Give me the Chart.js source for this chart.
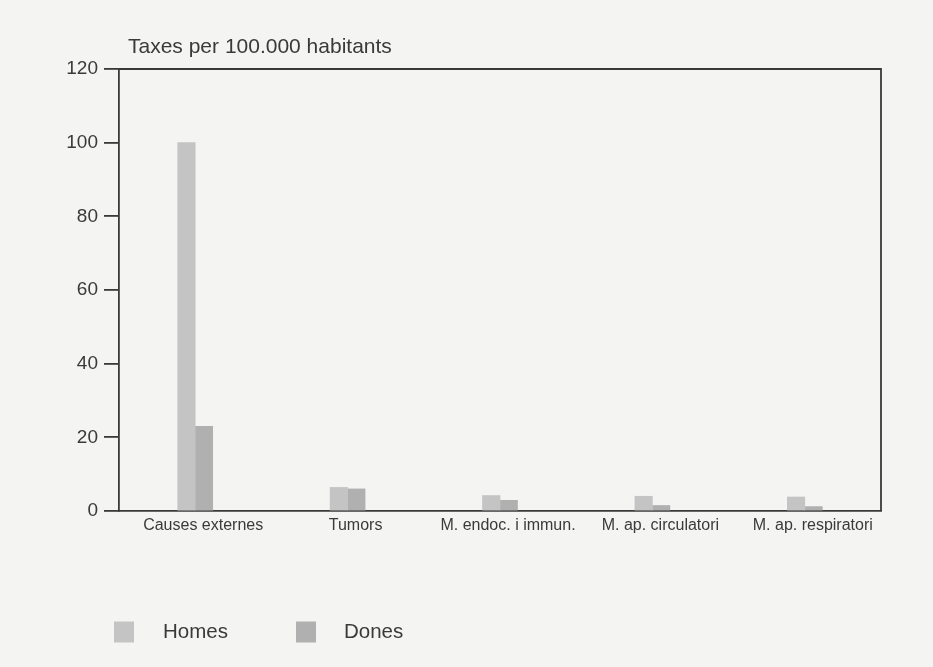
<!DOCTYPE html>
<html>
<head>
<meta charset="utf-8">
<script src="https://cdn.jsdelivr.net/npm/chart.js@4.4.1/dist/chart.umd.min.js"></script>
<style>
  html, body { margin: 0; padding: 0; background: #f4f4f2; }
  #wrap { position: relative; width: 933px; height: 667px; }
</style>
</head>
<body>
<div id="wrap"><canvas id="chart" width="933" height="667"></canvas></div>
<script>
// Principals causes de mort, taxes per 100.000 habitants
const categories = ['Causes externes', 'Tumors', 'M. endoc. i immun.', 'M. ap. circulatori', 'M. ap. respiratori'];
const homes = [100, 6.4, 4.2, 4.0, 3.8];
const dones = [23, 6.0, 2.9, 1.5, 1.2];
const seriesNames = ['Homes', 'Dones'];
const yTicks = [0, 20, 40, 60, 80, 100, 120];
const yTitle = 'Taxes per 100.000 habitants';

const INK = '#3a3a3a';
const FONT = "'Liberation Sans', Arial, Helvetica, sans-serif";
const homesColor = '#c4c4c4';
const donesColor = '#b0b0b0';

// Frame round the plot, title above the axis and the legend below
const decorations = {
  id: 'decorations',
  afterDraw(chart) {
    const { ctx, chartArea: a } = chart;
    ctx.save();
    ctx.strokeStyle = '#3a3a3a';
    ctx.lineWidth = 1.8;
    ctx.beginPath();
    ctx.moveTo(a.left, a.top);
    ctx.lineTo(a.right, a.top);
    ctx.lineTo(a.right, a.bottom);
    ctx.stroke();

    ctx.fillStyle = INK;
    ctx.font = '21px ' + FONT;
    ctx.textBaseline = 'middle';
    ctx.textAlign = 'left';
    ctx.fillText(yTitle, a.left + 9, a.top - 22);

    // legend
    const items = chart.data.datasets.map(d => ({ label: d.label, color: d.backgroundColor }));
    const xs = [114, 296];
    const textXs = [163, 344];
    const y = 632;
    ctx.font = '20.5px ' + FONT;
    items.forEach((it, i) => {
      ctx.fillStyle = it.color;
      ctx.fillRect(xs[i], y - 10.5, 20, 21);
      ctx.fillStyle = INK;
      ctx.fillText(it.label, textXs[i], y);
    });
    ctx.restore();
  }
};

new Chart(document.getElementById('chart'), {
  type: 'bar',
  data: {
    labels: categories,
    datasets: [
      { label: seriesNames[0], data: homes, backgroundColor: homesColor, barThickness: 17.5 },
      { label: seriesNames[1], data: dones, backgroundColor: donesColor, barThickness: 17.5 }
    ]
  },
  options: {
    responsive: false,
    animation: false,
    devicePixelRatio: 1,
    layout: { padding: { left: 0, right: 52, top: 69, bottom: 0 } },
    plugins: {
      legend: { display: false },
      tooltip: { enabled: false },
      title: { display: false }
    },
    scales: {
      x: {
        grid: { display: false, drawTicks: false },
        border: { display: true, color: '#3a3a3a', width: 1.8 },
        ticks: { color: INK, font: { family: FONT, size: 16 }, padding: 5, labelOffset: 8, maxRotation: 0, autoSkip: false },
        afterFit(scale) { scale.height = 156; }
      },
      y: {
        min: 0,
        max: 120,
        afterBuildTicks(scale) { scale.ticks = yTicks.map(v => ({ value: v })); },
        grid: { drawOnChartArea: false, drawTicks: true, tickLength: 15, color: '#3a3a3a', lineWidth: 1.8 },
        border: { display: true, color: '#3a3a3a', width: 1.8 },
        ticks: { color: INK, font: { family: FONT, size: 19 }, padding: 6 },
        afterFit(scale) { scale.width = 119; }
      }
    }
  },
  plugins: [decorations]
});
</script>
</body>
</html>
